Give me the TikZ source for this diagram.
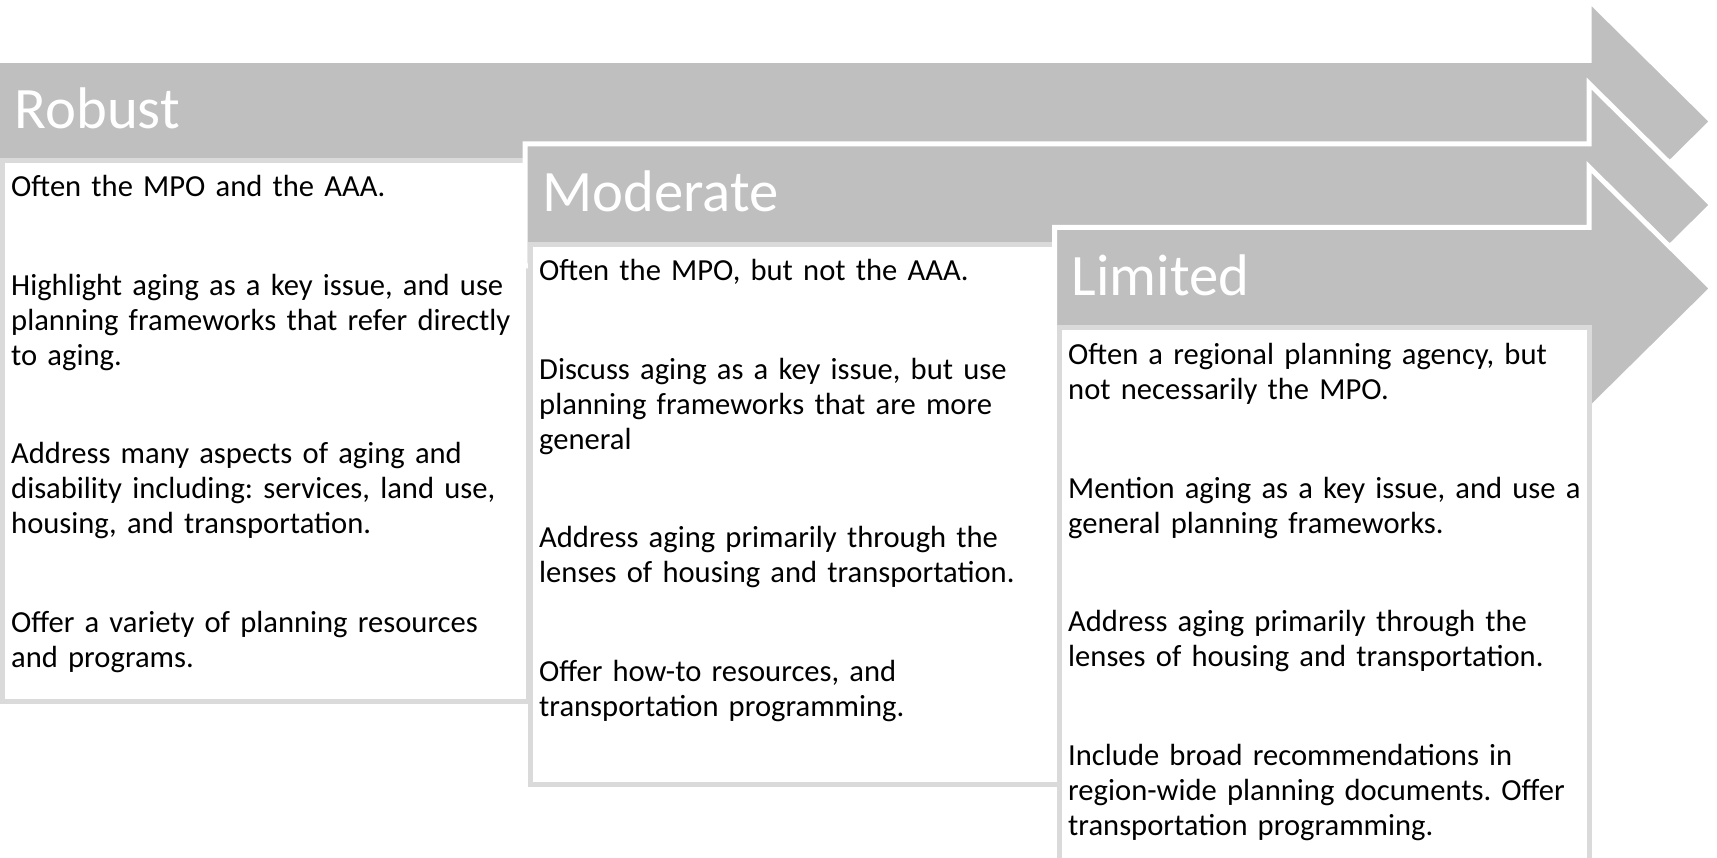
\documentclass[tikz,border=0pt]{standalone}
\usepackage{fontspec}
\setmainfont{Carlito}
\frenchspacing
\definecolor{bandgray}{RGB}{191,191,191}
\definecolor{boxline}{RGB}{218,218,218}
\tikzset{
  band/.style={fill=bandgray, draw=white, line width=5pt, line join=miter},
  panel/.style={fill=white, draw=boxline, line width=5pt},
  heading/.style={anchor=base west, inner sep=0pt, text=white,
    font=\fontsize{58.7}{70}\selectfont},
  body/.style={anchor=base west, inner sep=0pt, text width=560pt, align=left,
    font=\fontsize{30.6}{35}\selectfont},
}
\begin{document}
\begin{tikzpicture}[x=1pt,y=-1pt]
\clip (0,0) rectangle (1717,858);
\fill[white] (0,0) rectangle (1717,858);

% Robust
\path[band] (-5,60.5) -- (1589,60.5) -- (1589,0) -- (1712,121.5)
  -- (1589,243) -- (1589,182.5) -- (-5,182.5) -- cycle;
\node[heading] (robust) at (14.5,128.5) {Robust};
\path[panel] (2.5,160.5) rectangle (528,701.5);
\node[body] (robusttext) at (11,197) {Often the MPO and the AAA.\\[63.5pt]
Highlight aging as a key issue, and use\\
planning frameworks that refer directly\\
to aging.\\[63.5pt]
Address many aspects of aging and\\
disability including: services, land use,\\
housing, and transportation.\\[63.5pt]
Offer a variety of planning resources\\
and programs.};

% Moderate
\path[band] (525,144) -- (1589,144) -- (1589,83.5) -- (1712,205)
  -- (1589,326.5) -- (1589,266) -- (525,266) -- cycle;
\node[heading] (moderate) at (542,212) {Moderate};
\path[panel] (530.5,244.5) rectangle (1060,784.5);
\node[body] (moderatetext) at (539,281) {Often the MPO, but not the AAA.\\[63.5pt]
Discuss aging as a key issue, but use\\
planning frameworks that are more\\
general\\[63.5pt]
Address aging primarily through the\\
lenses of housing and transportation.\\[63.5pt]
Offer how-to resources, and\\
transportation programming.};

% Limited
\path[band] (1054.5,227.5) -- (1589,227.5) -- (1589,167) -- (1712,288.5)
  -- (1589,410) -- (1589,349.5) -- (1054.5,349.5) -- cycle;
\node[heading] (limited) at (1071.5,295.5) {Limited};
\path[panel] (1059.5,327.5) rectangle (1589.5,900);
\node[body] (limitedtext) at (1068,365) {Often a regional planning agency, but\\
not necessarily the MPO.\\[63.5pt]
Mention aging as a key issue, and use a\\
general planning frameworks.\\[63.5pt]
Address aging primarily through the\\
lenses of housing and transportation.\\[63.5pt]
Include broad recommendations in\\
region-wide planning documents. Offer\\
transportation programming.};
\end{tikzpicture}
\end{document}
